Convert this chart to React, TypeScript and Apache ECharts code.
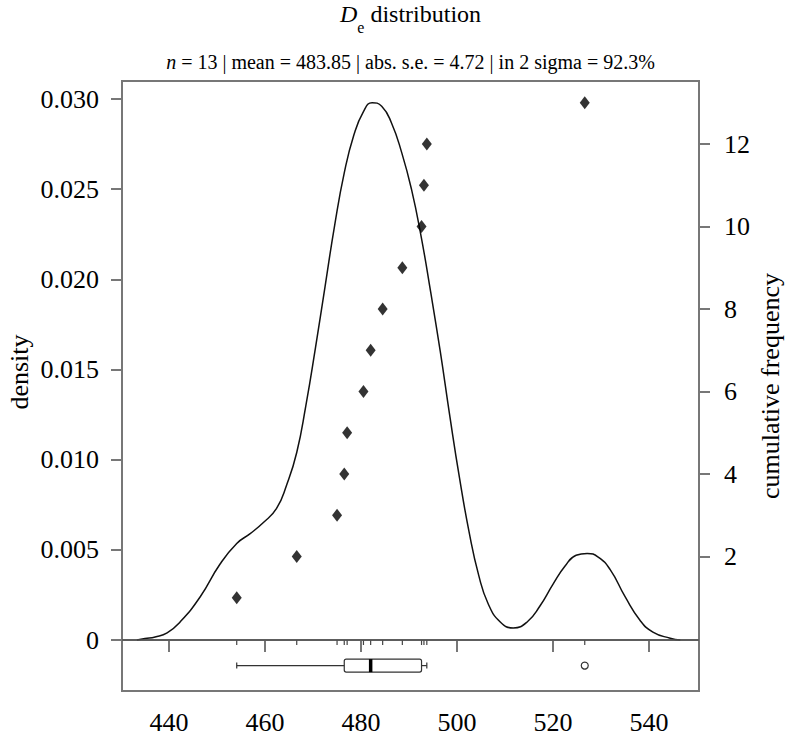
import React, { useEffect, useRef } from 'react';
import * as echarts from 'echarts';

// ---- data ----
const deValues = [454.1, 466.6, 475.0, 476.5, 477.1, 480.5, 482.0, 484.5, 488.6, 492.6, 493.1, 493.7, 526.6];
const cumulativeCounts = [1, 2, 3, 4, 5, 6, 7, 8, 9, 10, 11, 12, 13];

const kdeX = [433.3, 435.0, 437.1, 439.6, 442.3, 446.5, 450.6, 454.1, 456.9, 459.6, 462.4, 464.5, 466.6, 468.5, 470.5, 472.5, 474.5, 476.5, 478.5, 480.5, 482.3, 484.3, 486.3, 488.5, 490.5, 492.5, 494.5, 496.5, 498.5, 500.5, 502.5, 504.5, 506.5, 509.0, 511.7, 514.6, 517.3, 520.0, 522.5, 524.8, 527.1, 529.4, 531.9, 535.0, 538.1, 540.8, 544.4, 546.5];
const kdeDensity = [0, 0.00008, 0.00017, 0.00039, 0.0010, 0.0024, 0.0042, 0.00535, 0.0059, 0.0065, 0.0073, 0.0086, 0.0104, 0.0130, 0.0162, 0.0196, 0.0230, 0.0259, 0.0280, 0.0293, 0.0298, 0.0296, 0.0287, 0.0270, 0.0250, 0.0224, 0.0193, 0.0160, 0.0124, 0.0090, 0.0060, 0.0036, 0.0020, 0.0010, 0.00067, 0.0010, 0.0019, 0.0031, 0.0041, 0.0047, 0.0048, 0.0046, 0.0039, 0.0024, 0.0011, 0.00044, 0.0001, 0];

// boxplot: min whisker, Q1, median, Q3, max whisker
const boxStats = [454.1, 476.5, 482.0, 492.6, 493.7];
const outliers = [526.6];

const xTicks = [440, 460, 480, 500, 520, 540];
const densityTicks = [0, 0.005, 0.01, 0.015, 0.02, 0.025, 0.03];
const cumTicks = [2, 4, 6, 8, 10, 12];

const titleMain = 'distribution';
const subtitleParts = ['= 13 | mean = 483.85 | abs. s.e. = 4.72 | in 2 sigma = 92.3%'];

const FONT = "'Liberation Serif', 'Times New Roman', Times, serif";
const AXIS_COLOR = '#777';
const BOX_LEVEL = -0.00142; // density-axis level of the boxplot

export default function App() {
  const ref = useRef<HTMLDivElement>(null);

  useEffect(() => {
    if (!ref.current) return;
    const chart = echarts.init(ref.current, undefined, { renderer: 'svg' });

    const axisLabelStyle = { fontFamily: FONT, fontSize: 26, color: '#000' };

    const option: any = {
      animation: false,
      backgroundColor: '#fff',
      textStyle: { fontFamily: FONT },
      grid: {
        left: 122,
        right: 89,
        top: 81,
        bottom: 49,
        show: true,
        borderColor: AXIS_COLOR,
        borderWidth: 2,
        backgroundColor: 'transparent',
      },
      xAxis: {
        type: 'value',
        min: 430.2,
        max: 550.4,
        axisLine: { show: true, lineStyle: { color: AXIS_COLOR, width: 2 } },
        axisTick: { show: true, length: 12, customValues: xTicks, lineStyle: { color: AXIS_COLOR, width: 2 } },
        axisLabel: { ...axisLabelStyle, margin: 18, customValues: xTicks },
        splitLine: { show: false },
      },
      yAxis: [
        {
          type: 'value',
          min: -0.002828,
          max: 0.031,
          position: 'left',
          axisLine: { show: true, lineStyle: { color: AXIS_COLOR, width: 2 } },
          axisTick: { show: true, length: 11, customValues: densityTicks, lineStyle: { color: AXIS_COLOR, width: 2 } },
          axisLabel: {
            ...axisLabelStyle,
            margin: 23,
            customValues: densityTicks,
            formatter: (v: number) => (Math.abs(v) < 1e-9 ? '0' : v.toFixed(3)),
          },
          splitLine: { show: false },
        },
        {
          type: 'value',
          min: -1.261,
          max: 13.529,
          position: 'right',
          axisLine: { show: true, lineStyle: { color: AXIS_COLOR, width: 2 } },
          axisTick: { show: true, length: 11, customValues: cumTicks, lineStyle: { color: AXIS_COLOR, width: 2 } },
          axisLabel: { ...axisLabelStyle, margin: 25, customValues: cumTicks },
          splitLine: { show: false },
        },
      ],
      graphic: [
        {
          type: 'text',
          x: 410.5,
          y: 2,
          style: {
            text: '{i|D}{s|e}{n| ' + titleMain + '}',
            font: '24px ' + FONT,
            align: 'center',
            verticalAlign: 'top',
            rich: {
              i: { fontFamily: FONT, fontSize: 24, fontStyle: 'italic', fill: '#000', lineHeight: 26, verticalAlign: 'top' },
              s: { fontFamily: FONT, fontSize: 16, fill: '#000', lineHeight: 16, padding: [17, 0, 0, 0], verticalAlign: 'top' },
              n: { fontFamily: FONT, fontSize: 24, fill: '#000', lineHeight: 26, verticalAlign: 'top' },
            },
          },
        },
        {
          type: 'text',
          x: 410.5,
          y: 51,
          style: {
            text: '{i|n}{n| ' + subtitleParts[0] + '}',
            font: '20px ' + FONT,
            align: 'center',
            verticalAlign: 'top',
            rich: {
              i: { fontFamily: FONT, fontSize: 20, fontStyle: 'italic', fill: '#000', lineHeight: 22 },
              n: { fontFamily: FONT, fontSize: 20, fill: '#000', lineHeight: 22 },
            },
          },
        },
        {
          type: 'text',
          x: 19,
          y: 372,
          rotation: Math.PI / 2,
          style: { text: 'density', font: '26px ' + FONT, fill: '#000', align: 'center', verticalAlign: 'middle' },
        },
        {
          type: 'text',
          x: 770,
          y: 386,
          rotation: Math.PI / 2,
          style: { text: 'cumulative frequency', font: '26px ' + FONT, fill: '#000', align: 'center', verticalAlign: 'middle' },
        },
      ],
      series: [
        {
          type: 'line',
          name: 'KDE',
          yAxisIndex: 0,
          data: kdeX.map((x, i) => [x, kdeDensity[i]]),
          showSymbol: false,
          symbol: 'none',
          smooth: 0.5,
          lineStyle: { color: '#111', width: 1.5 },
          silent: true,
          z: 3,
          markLine: {
            silent: true,
            symbol: ['none', 'none'],
            label: { show: false },
            lineStyle: { color: '#555', width: 1.5, type: 'solid' },
            data: [{ yAxis: 0 }],
          },
        },
        {
          type: 'scatter',
          name: 'De',
          yAxisIndex: 1,
          data: deValues.map((v, i) => [v, cumulativeCounts[i]]),
          symbol: 'diamond',
          symbolSize: [10, 13],
          itemStyle: { color: '#000' },
          z: 5,
        },
        {
          type: 'custom',
          name: 'rug',
          yAxisIndex: 0,
          clip: false,
          data: deValues.map((v) => [v, 0]),
          renderItem: (params: any, api: any) => {
            const p = api.coord([api.value(0), 0]);
            return {
              type: 'line',
              shape: { x1: p[0], y1: p[1], x2: p[0], y2: p[1] + 5 },
              style: { stroke: '#444', lineWidth: 1.2 },
            };
          },
          z: 4,
        },
        {
          type: 'custom',
          name: 'boxplot',
          yAxisIndex: 0,
          clip: false,
          data: [[boxStats[2], BOX_LEVEL]],
          renderItem: (params: any, api: any) => {
            const yC = api.coord([boxStats[0], BOX_LEVEL])[1];
            const h = 13;
            const p = boxStats.map((v) => api.coord([v, BOX_LEVEL])[0]);
            const st = { stroke: '#333', lineWidth: 1.2, fill: 'none' };
            const children: any[] = [
              { type: 'line', shape: { x1: p[0], y1: yC, x2: p[1], y2: yC }, style: st },
              { type: 'line', shape: { x1: p[3], y1: yC, x2: p[4], y2: yC }, style: st },
              { type: 'line', shape: { x1: p[0], y1: yC - 3, x2: p[0], y2: yC + 3 }, style: st },
              { type: 'line', shape: { x1: p[4], y1: yC - 3, x2: p[4], y2: yC + 3 }, style: st },
              { type: 'rect', shape: { x: p[1], y: yC - h / 2, width: p[3] - p[1], height: h, r: 2 }, style: st },
              { type: 'line', shape: { x1: p[2], y1: yC - h / 2, x2: p[2], y2: yC + h / 2 }, style: { stroke: '#000', lineWidth: 3.5 } },
            ];
            outliers.forEach((o) => {
              const ox = api.coord([o, BOX_LEVEL])[0];
              children.push({ type: 'circle', shape: { cx: ox, cy: yC, r: 3.5 }, style: { fill: '#fff', stroke: '#333', lineWidth: 1.2 } });
            });
            return { type: 'group', children };
          },
          z: 4,
        },
      ],
    };

    chart.setOption(option);
    return () => chart.dispose();
  }, []);

  return <div ref={ref} style={{ position: 'fixed', left: 0, top: 0, width: 788, height: 740, background: '#fff' }} />;
}
